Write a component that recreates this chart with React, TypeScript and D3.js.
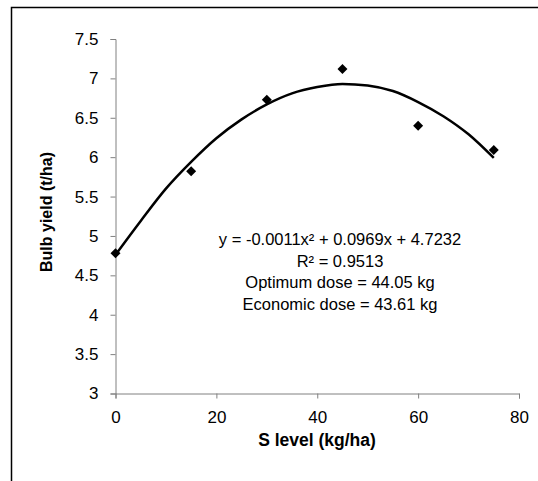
import React, { useEffect, useRef } from 'react';
import * as d3 from 'd3';

// observed points
const sLevels = [0, 15, 30, 45, 60, 75];
const bulbYield = [4.78, 5.82, 6.73, 7.12, 6.4, 6.09];

// trend line, every 5 kg
const trendX = [0, 5, 10, 15, 20, 25, 30, 35, 40, 45, 50, 55, 60, 65, 70, 75];
const trendY = [4.76, 5.19, 5.6, 5.94, 6.24, 6.48, 6.67, 6.81, 6.89, 6.93, 6.91, 6.84, 6.7, 6.52, 6.29, 5.99];

const xTicks = [0, 20, 40, 60, 80];
const yTicks = [3, 3.5, 4, 4.5, 5, 5.5, 6, 6.5, 7, 7.5];

const notes = [
  'y = -0.0011x² + 0.0969x + 4.7232',
  'R² = 0.9513',
  'Optimum dose = 44.05 kg',
  'Economic dose = 43.61 kg',
];

const App = () => {
  const ref = useRef<SVGSVGElement>(null);

  useEffect(() => {
    const svg = d3.select(ref.current);
    svg.selectAll('*').remove();
    const font = 'Arial, "Liberation Sans", sans-serif';

    const x = d3.scaleLinear().domain([0, 80]).range([115.5, 519]);
    const y = d3.scaleLinear().domain([3, 7.5]).range([393.5, 39]);

    // frame
    svg.append('path')
      .attr('d', 'M11.5,481 L11.5,7.5 L538,7.5')
      .attr('fill', 'none')
      .attr('stroke', '#000')
      .attr('stroke-width', 1.5);

    const xAxis = svg.append('g')
      .attr('transform', `translate(0, ${y(3)})`)
      .call(d3.axisBottom(x).tickValues(xTicks).tickSize(5).tickSizeOuter(5).tickPadding(12));
    const yAxis = svg.append('g')
      .attr('transform', `translate(${x(0)}, 0)`)
      .call(d3.axisLeft(y).tickValues(yTicks).tickSize(5).tickSizeOuter(5).tickPadding(12)
        .tickFormat(d => String(d)));

    [xAxis, yAxis].forEach(g => {
      g.select('.domain').attr('stroke', '#808080');
      g.selectAll('.tick line').attr('stroke', '#808080');
      g.selectAll('.tick text')
        .attr('fill', '#000')
        .style('font-family', font)
        .style('font-size', '17px');
    });

    // trend line
    const line = d3.line<number>()
      .x((d, i) => x(trendX[i]))
      .y(d => y(d))
      .curve(d3.curveMonotoneX);
    svg.append('path')
      .datum(trendY)
      .attr('d', line)
      .attr('fill', 'none')
      .attr('stroke', '#000')
      .attr('stroke-width', 2.5);

    // markers
    svg.selectAll('.pt')
      .data(bulbYield)
      .join('path')
      .attr('class', 'pt')
      .attr('d', d3.symbol(d3.symbolSquare, 50)())
      .attr('transform', (d, i) => `translate(${x(sLevels[i])}, ${y(d)}) rotate(45)`)
      .attr('fill', '#000');

    // equation box text
    svg.selectAll('.note')
      .data(notes)
      .join('text')
      .attr('class', 'note')
      .attr('x', 340)
      .attr('y', (d, i) => 245 + i * 21.7)
      .attr('text-anchor', 'middle')
      .style('font-family', font)
      .style('font-size', '16.5px')
      .text(d => d);

    svg.append('text')
      .attr('x', 317)
      .attr('y', 446)
      .attr('text-anchor', 'middle')
      .style('font-family', font)
      .style('font-size', '17.5px')
      .style('font-weight', 'bold')
      .text('S level (kg/ha)');

    svg.append('text')
      .attr('transform', 'translate(52, 212) rotate(-90)')
      .attr('text-anchor', 'middle')
      .style('font-family', font)
      .style('font-size', '16px')
      .style('font-weight', 'bold')
      .text('Bulb yield (t/ha)');
  }, []);

  return (
    <div style={{ position: 'absolute', left: 0, top: 0 }}>
      <svg ref={ref} width={538} height={481} style={{ display: 'block', background: '#fff' }} />
    </div>
  );
};

export default App;
